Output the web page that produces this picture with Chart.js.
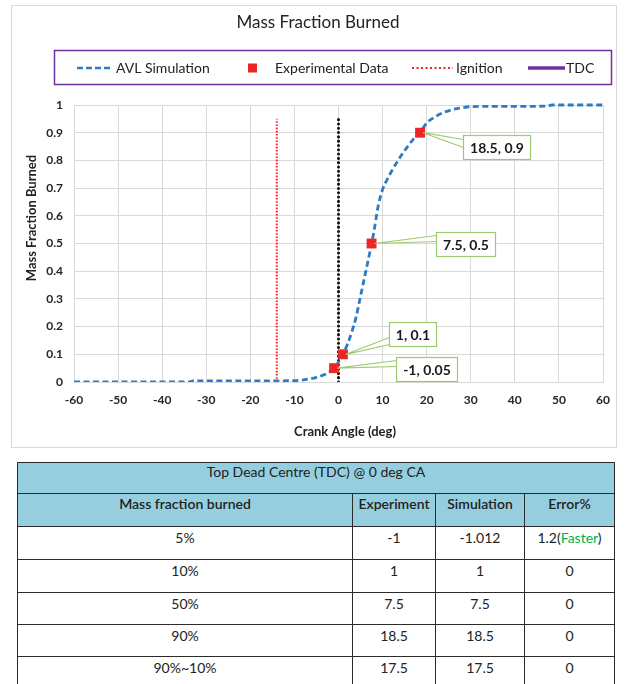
<!DOCTYPE html>
<html>
<head>
<meta charset="utf-8">
<title>Mass Fraction Burned</title>
<script src="https://cdn.jsdelivr.net/npm/chart.js@4.4.1/dist/chart.umd.min.js"></script>
<style>
  html, body { margin: 0; padding: 0; background: #fff; }
  body { width: 625px; height: 684px; position: relative; overflow: hidden; font-family: Lato, "Open Sans", sans-serif; }
  #box { position: absolute; left: 11px; top: 5px; width: 604px; height: 441px; border: 1px solid #d9d9d9; background: #fff; }
  #mfb { display: block; }
  #results { position: absolute; left: 17px; top: 462px; border-collapse: collapse; table-layout: fixed; color: #222; font-size: 14px; }
  #results td { border: 1.5px solid #2b2b2b; text-align: center; vertical-align: top; line-height: 18px; padding: 2px 0 0 0; white-space: nowrap; }
  #results tr.head td { background: #95cfdf; font-weight: 600; }
  #results tr.head td { padding-top: 1px; }
  #results tr.caption td { padding-top: 0; font-weight: 400; }
  .faster { color: #00b050; }
</style>
</head>
<body>
<div id="box"><canvas id="mfb" width="604" height="441"></canvas></div>
<table id="results"></table>
<script>
// Simulated burn curve (crank angle in deg, mass fraction burned)
const curveAngle = [-60, -50, -40, -34, -33, -20, -10, -9, -7, -5, -3, -2, -1, 0, 1, 2, 3, 4, 5, 6, 7, 7.5, 8, 9, 10, 11, 12, 13, 14, 15, 16, 17, 18.5, 20, 22, 24, 26, 28, 30, 35, 40, 47, 48.5, 55, 60];
const curveMfb   = [0, 0, 0, 0, 0.004, 0.004, 0.005, 0.006, 0.01, 0.017, 0.028, 0.037, 0.05, 0.072, 0.1, 0.135, 0.18, 0.235, 0.31, 0.385, 0.46, 0.5, 0.54, 0.635, 0.695, 0.73, 0.76, 0.787, 0.812, 0.835, 0.857, 0.877, 0.9, 0.935, 0.958, 0.974, 0.984, 0.99, 0.994, 0.995, 0.995, 0.996, 1, 1, 1];

// Measured points
const expAngle = [-1, 1, 7.5, 18.5];
const expMfb   = [0.05, 0.1, 0.5, 0.9];

// Reference lines
const ignitionAngle = -14;
const tdcAngle = 0;
const refLineTop = 0.95;

// Axis ticks
const xTicks = [-60, -50, -40, -30, -20, -10, 0, 10, 20, 30, 40, 50, 60];
const yTicks = [0, 0.1, 0.2, 0.3, 0.4, 0.5, 0.6, 0.7, 0.8, 0.9, 1];

const chartTitle = 'Mass Fraction Burned';
const xTitle = 'Crank Angle (deg)';
const yTitle = 'Mass Fraction Burned';
const legendLabels = ['AVL Simulation', 'Experimental Data', 'Ignition', 'TDC'];

// Comparison table
const tableCaption = 'Top Dead Centre (TDC) @ 0 deg CA';
const tableColumns = ['Mass fraction burned', 'Experiment', 'Simulation', 'Error%'];
const rowLabels  = ['5%', '10%', '50%', '90%', '90%~10%'];
const expValues  = ['-1', '1', '7.5', '18.5', '17.5'];
const simValues  = ['-1.012', '1', '7.5', '18.5', '17.5'];
const errValues  = ['1.2', '0', '0', '0', '0'];
const errNotes   = ['Faster', '', '', '', ''];

const FONT = 'Lato, "Open Sans", sans-serif';
const BLUE = '#2e7bc4';
const RED = '#ec2626';
const PURPLE = '#7030a0';
const CALLOUT_GREEN = '#9dcb70';

// ---- table ----
(function buildTable() {
  const t = document.getElementById('results');
  const cg = document.createElement('colgroup');
  [335, 83, 89, 90].forEach(w => { const c = document.createElement('col'); c.style.width = w + 'px'; cg.appendChild(c); });
  t.appendChild(cg);
  const r0 = t.insertRow(); r0.className = 'head caption'; r0.style.height = '31px';
  const c0 = r0.insertCell(); c0.colSpan = 4; c0.textContent = tableCaption;
  const r1 = t.insertRow(); r1.className = 'head'; r1.style.height = '33px';
  tableColumns.forEach(h => { r1.insertCell().textContent = h; });
  const heights = [33, 33, 32, 32, 32];
  rowLabels.forEach((lab, i) => {
    const r = t.insertRow(); r.style.height = heights[i] + 'px';
    r.insertCell().textContent = lab;
    r.insertCell().textContent = expValues[i];
    r.insertCell().textContent = simValues[i];
    const e = r.insertCell();
    e.textContent = errValues[i];
    if (errNotes[i]) {
      e.appendChild(document.createTextNode('('));
      const s = document.createElement('span'); s.className = 'faster'; s.textContent = errNotes[i];
      e.appendChild(s);
      e.appendChild(document.createTextNode(')'));
    }
  });
})();

// ---- chart decorations: title, framed legend, axis titles, value callouts ----
const decor = {
  id: 'decor',
  afterDatasetsDraw(chart) {
    const ctx = chart.ctx;
    const xs = chart.scales.x, ys = chart.scales.y;
    // box offsets from each marker: [dx to box left, dy to box top, wedge base start, wedge base end]
    const place = [[62, -11, 3, 9], [46, -32, 15, 22], [64, -12, 3, 9], [43, 2, 4, 12]];
    ctx.save();
    ctx.font = `bold 14px ${FONT}`;
    expAngle.forEach((a, i) => {
      const px = xs.getPixelForValue(a), py = ys.getPixelForValue(expMfb[i]);
      const text = `${a}, ${expMfb[i]}`;
      const w = Math.round(ctx.measureText(text).width) + 13, h = 24;
      const [dx, dy, b0, b1] = place[i];
      const bx = Math.round(px + dx) + 0.5, by = Math.round(py + dy) + 0.5;
      ctx.lineWidth = 1.2;
      ctx.strokeStyle = CALLOUT_GREEN;
      ctx.fillStyle = '#fff';
      ctx.beginPath();
      ctx.moveTo(bx, by + b0);
      ctx.lineTo(px + 3, py);
      ctx.lineTo(bx, by + b1);
      ctx.closePath();
      ctx.fill();
      ctx.beginPath();
      ctx.moveTo(bx, by + b0);
      ctx.lineTo(px + 3, py);
      ctx.lineTo(bx, by + b1);
      ctx.stroke();
      ctx.fillRect(bx, by, w, h);
      ctx.strokeRect(bx, by, w, h);
      ctx.fillStyle = '#1a1a1a';
      ctx.textAlign = 'center';
      ctx.textBaseline = 'middle';
      ctx.fillText(text, bx + w / 2, by + h / 2 + 1);
    });
    ctx.restore();
  },
  afterDraw(chart) {
    const ctx = chart.ctx;
    ctx.save();
    ctx.fillStyle = '#222';
    ctx.textBaseline = 'middle';
    // title
    ctx.textAlign = 'center';
    ctx.font = `17px ${FONT}`;
    ctx.fillText(chartTitle, 306, 17);
    // axis titles
    ctx.font = `bold 13px ${FONT}`;
    ctx.fillText(xTitle, 333, 426);
    ctx.save();
    ctx.translate(20, 212);
    ctx.rotate(-Math.PI / 2);
    ctx.fillText(yTitle, 0, 0);
    ctx.restore();
    // legend frame
    ctx.strokeStyle = PURPLE;
    ctx.lineWidth = 1.5;
    ctx.strokeRect(42.5, 44.5, 557, 34);
    const ly = 62;
    ctx.textAlign = 'left';
    ctx.font = `14px ${FONT}`;
    // simulation
    ctx.strokeStyle = BLUE; ctx.lineWidth = 2.5; ctx.setLineDash([6, 3]);
    ctx.beginPath(); ctx.moveTo(65, ly); ctx.lineTo(101, ly); ctx.stroke();
    ctx.fillStyle = '#222'; ctx.fillText(legendLabels[0], 104, ly);
    // experiment
    ctx.fillStyle = RED; ctx.fillRect(236, ly - 4.5, 9, 9);
    ctx.fillStyle = '#222'; ctx.fillText(legendLabels[1], 263, ly);
    // ignition
    ctx.strokeStyle = RED; ctx.lineWidth = 2; ctx.setLineDash([2, 2.5]);
    ctx.beginPath(); ctx.moveTo(400, ly); ctx.lineTo(441, ly); ctx.stroke();
    ctx.fillStyle = '#222'; ctx.fillText(legendLabels[2], 444, ly);
    // TDC
    ctx.strokeStyle = PURPLE; ctx.lineWidth = 3.5; ctx.setLineDash([]);
    ctx.beginPath(); ctx.moveTo(516, ly); ctx.lineTo(553, ly); ctx.stroke();
    ctx.fillStyle = '#222'; ctx.fillText(legendLabels[3], 554, ly);
    ctx.restore();
  }
};

const tickFont = { family: FONT, size: 12, weight: 'bold' };

new Chart(document.getElementById('mfb'), {
  type: 'scatter',
  data: {
    datasets: [
      {
        label: legendLabels[1],
        data: expAngle.map((a, i) => ({ x: a, y: expMfb[i] })),
        pointStyle: 'rect',
        pointRadius: 7,
        pointHoverRadius: 7,
        backgroundColor: RED,
        borderColor: RED,
        borderWidth: 0,
        showLine: false,
        order: 0
      },
      {
        label: legendLabels[0],
        data: curveAngle.map((a, i) => ({ x: a, y: curveMfb[i] })),
        showLine: true,
        pointRadius: 0,
        borderColor: BLUE,
        borderWidth: 2.8,
        borderDash: [6, 3.5],
        cubicInterpolationMode: 'monotone',
        clip: { left: 4, right: 4, top: 4, bottom: 0 },
        order: 1
      },
      {
        label: legendLabels[3],
        data: [{ x: tdcAngle, y: 0 }, { x: tdcAngle, y: refLineTop }],
        showLine: true,
        pointRadius: 0,
        borderColor: '#111',
        borderWidth: 3,
        borderCapStyle: 'round',
        borderDash: [0.1, 4.2],
        order: 2
      },
      {
        label: legendLabels[2],
        data: [{ x: ignitionAngle, y: 0 }, { x: ignitionAngle, y: refLineTop }],
        showLine: true,
        pointRadius: 0,
        borderColor: '#ff1f1f',
        borderWidth: 2,
        borderDash: [1.6, 1.6],
        order: 3
      }
    ]
  },
  options: {
    responsive: false,
    animation: false,
    events: [],
    layout: { padding: { top: 99, right: 13, bottom: 0, left: 0 } },
    plugins: {
      legend: { display: false },
      title: { display: false },
      tooltip: { enabled: false }
    },
    scales: {
      x: {
        type: 'linear',
        min: -60, max: 60,
        afterBuildTicks: s => { s.ticks = xTicks.map(v => ({ value: v })); },
        afterFit: s => { s.height = 65; s.paddingLeft = 0; s.paddingRight = 0; },
        grid: { color: '#d9d9d9', lineWidth: 1, drawTicks: false },
        border: { color: '#d9d9d9' },
        ticks: { padding: 11, font: tickFont, color: '#262626', maxRotation: 0, autoSkip: false }
      },
      y: {
        type: 'linear',
        min: 0, max: 1,
        afterBuildTicks: s => { s.ticks = yTicks.map(v => ({ value: v })); },
        afterFit: s => { s.width = 62; s.paddingTop = 0; s.paddingBottom = 0; },
        grid: { color: '#d9d9d9', lineWidth: 1, drawTicks: false },
        border: { color: '#d9d9d9' },
        ticks: { padding: 11, font: tickFont, color: '#262626', autoSkip: false, callback: v => String(v) }
      }
    }
  },
  plugins: [decor]
});
</script>
</body>
</html>
